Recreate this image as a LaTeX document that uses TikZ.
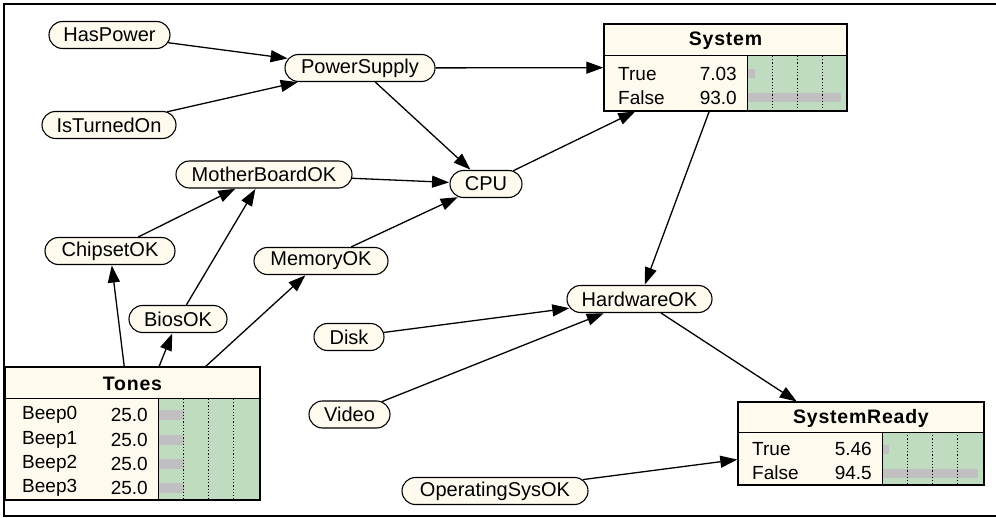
\documentclass[tikz,border=0pt]{standalone}
\usepackage{fontspec}
\setmainfont{Liberation Sans}
\usetikzlibrary{shapes.misc,arrows.meta}
\definecolor{cream}{RGB}{255,250,238}
\definecolor{bargreen}{RGB}{192,220,192}
\definecolor{bargray}{RGB}{192,192,192}
\tikzset{
  varnode/.style={rounded rectangle, draw=black, fill=cream, line width=1.1pt,
    minimum height=27pt, inner xsep=2pt, inner ysep=0pt,
    font=\fontsize{20}{22}\selectfont},
  boxanchor/.style={rectangle, inner sep=0pt, draw=none},
  boxtxt/.style={inner sep=0pt, font=\fontsize{19}{22}\selectfont},
  boxtitle/.style={inner sep=0pt, font=\fontsize{19.5}{22}\selectfont\bfseries\addfontfeatures{LetterSpace=4}},
  link/.style={line width=1.3pt, -{Triangle[length=17pt,width=12pt]}, shorten >=0.5pt},
  divider/.style={line width=1pt},
  dotline/.style={dash pattern=on 1.2pt off 2pt, line width=0.8pt},
  outline/.style={line width=1.5pt}
}
\begin{document}
\begin{tikzpicture}[x=1pt,y=-1pt]
\useasboundingbox (0,0) rectangle (996,518);
\fill[white] (0,0) rectangle (996,518);
% frame (right side outside the picture)
\draw[outline] (996,4) -- (4,4) -- (4,516) -- (996,516);

% ---------- variable nodes ----------
\node[varnode, minimum width=125pt] (HasPower) at (109.5,35) {HasPower};
\node[varnode, minimum width=138pt] (IsTurnedOn) at (109,125) {IsTurnedOn};
\node[varnode, minimum width=154pt] (PowerSupply) at (360,68) {PowerSupply};
\node[varnode, minimum width=76pt] (CPU) at (486,184) {CPU};
\node[varnode, minimum width=180pt] (MotherBoardOK) at (264,174.5) {MotherBoardOK};
\node[varnode, minimum width=134pt] (ChipsetOK) at (110,251) {ChipsetOK};
\node[varnode, minimum width=138pt] (MemoryOK) at (321,261) {MemoryOK};
\node[varnode, minimum width=102pt] (BiosOK) at (178,319) {BiosOK};
\node[varnode, minimum width=149pt] (HardwareOK) at (639.5,299) {HardwareOK};
\node[varnode, minimum width=74pt] (Disk) at (349,337) {Disk};
\node[varnode, minimum width=85pt] (Video) at (349.5,414.5) {Video};
\node[varnode, minimum width=190pt] (OperatingSysOK) at (495,491) {OperatingSysOK};

% ---------- System box ----------
\node[boxanchor, minimum width=243pt, minimum height=87pt] (System) at (725.5,67.5) {};
\fill[cream] (604,24) rectangle (847,111);
\fill[bargreen] (747,56) rectangle (847,111);
\fill[bargray] (748,69.5) rectangle (755,78.5);
\fill[bargray] (748,93.5) rectangle (841,102.5);
\foreach \xx in {772,797,822} \draw[dotline] (\xx,56) -- (\xx,111);
\draw[divider] (747,56) -- (747,111);
\draw[divider] (604,56) -- (847,56);
\draw[outline] (System.north west) rectangle (System.south east);
\node[boxtitle] at (725.5,40.5) {System};
\node[boxtxt, anchor=west] at (618,74) {True};
\node[boxtxt, anchor=east] at (737,74) {7.03};
\node[boxtxt, anchor=west] at (618,98) {False};
\node[boxtxt, anchor=east] at (737,98) {93.0};

% ---------- Tones box ----------
\node[boxanchor, minimum width=255pt, minimum height=133pt] (Tones) at (132.5,433.5) {};
\fill[cream] (5,367) rectangle (260,500);
\fill[bargreen] (158,399) rectangle (260,500);
\foreach \yy in {415,439.5,463.5,488} \fill[bargray] (159,\yy-5) rectangle (184,\yy+5);
\foreach \xx in {183,208,233} \draw[dotline] (\xx,399) -- (\xx,500);
\draw[divider] (158,399) -- (158,500);
\draw[divider] (5,399) -- (260,399);
\draw[outline] (Tones.north west) rectangle (Tones.south east);
\node[boxtitle] at (132.5,384) {Tones};
\node[boxtxt, anchor=west] at (22,415) {Beep0};
\node[boxtxt, anchor=east] at (148,415) {25.0};
\node[boxtxt, anchor=west] at (22,439.5) {Beep1};
\node[boxtxt, anchor=east] at (148,439.5) {25.0};
\node[boxtxt, anchor=west] at (22,463.5) {Beep2};
\node[boxtxt, anchor=east] at (148,463.5) {25.0};
\node[boxtxt, anchor=west] at (22,488) {Beep3};
\node[boxtxt, anchor=east] at (148,488) {25.0};

% ---------- SystemReady box ----------
\node[boxanchor, minimum width=246pt, minimum height=83pt] (SystemReady) at (861,443.5) {};
\fill[cream] (738,402) rectangle (984,485);
\fill[bargreen] (882,432) rectangle (984,485);
\fill[bargray] (883,444.5) rectangle (888.5,453.5);
\fill[bargray] (883,468.5) rectangle (977.5,477.5);
\foreach \xx in {907,932,957} \draw[dotline] (\xx,432) -- (\xx,485);
\draw[divider] (882,432) -- (882,485);
\draw[divider] (738,432) -- (984,432);
\draw[outline] (SystemReady.north west) rectangle (SystemReady.south east);
\node[boxtitle] at (861,418) {SystemReady};
\node[boxtxt, anchor=west] at (752,449) {True};
\node[boxtxt, anchor=east] at (872,449) {5.46};
\node[boxtxt, anchor=west] at (752,473) {False};
\node[boxtxt, anchor=east] at (872,473) {94.5};

% ---------- links ----------
\draw[link] (HasPower) -- (PowerSupply);
\draw[link] (IsTurnedOn) -- (PowerSupply);
\draw[link] (PowerSupply) -- (System);
\draw[link] (PowerSupply) -- (CPU);
\draw[link] (MotherBoardOK) -- (CPU);
\draw[link] (MemoryOK) -- (CPU);
\draw[link] (CPU) -- (System);
\draw[link] (ChipsetOK) -- (MotherBoardOK);
\draw[link] (BiosOK) -- (MotherBoardOK);
\draw[link] (Tones) -- (ChipsetOK);
\draw[link] (Tones) -- (BiosOK);
\draw[link] (Tones) -- (MemoryOK);
\draw[link] (System) -- (HardwareOK);
\draw[link] (Disk) -- (HardwareOK);
\draw[link] (Video) -- (HardwareOK);
\draw[link] (HardwareOK) -- (SystemReady);
\draw[link] (OperatingSysOK) -- (SystemReady);
\end{tikzpicture}
\end{document}
